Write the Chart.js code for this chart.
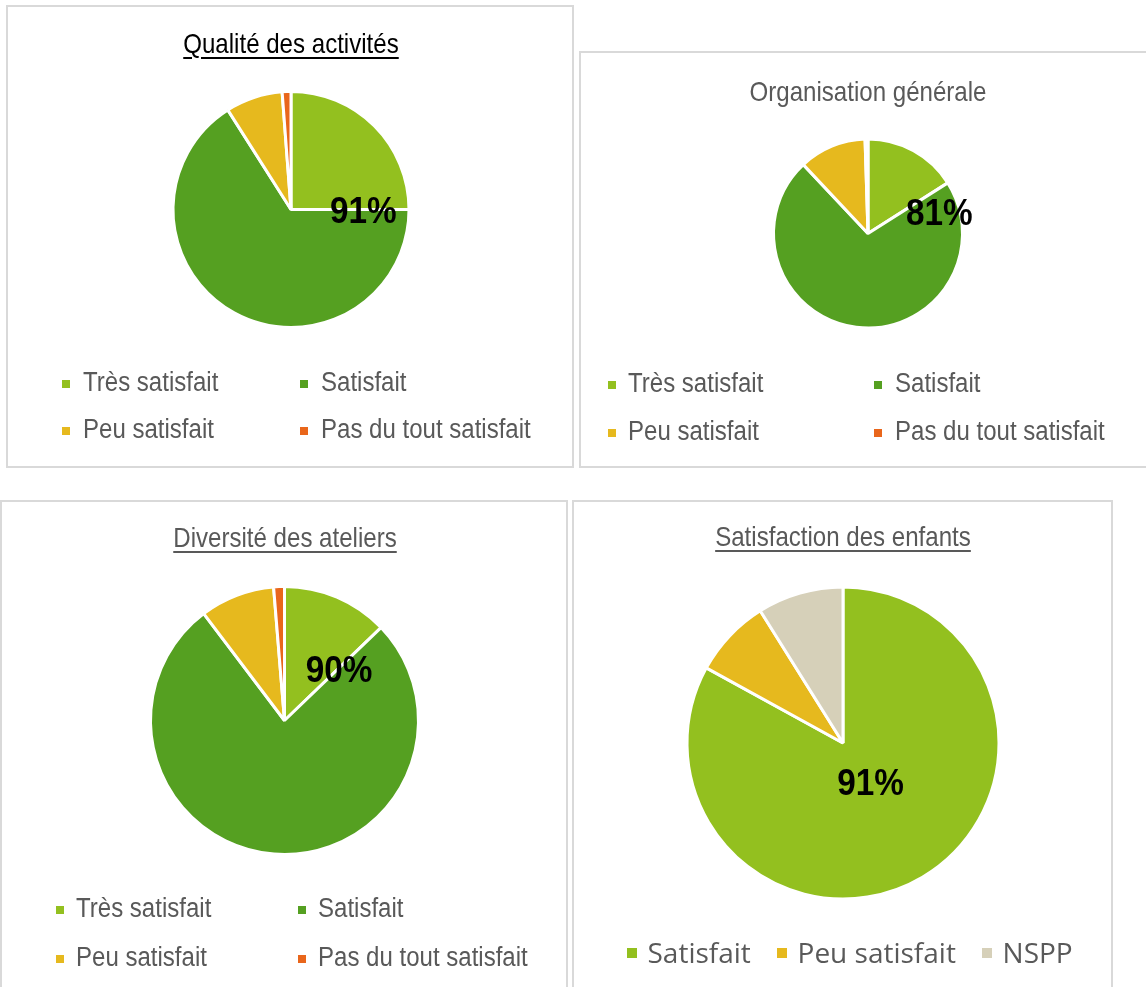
<!DOCTYPE html>
<html lang="fr">
<head>
<meta charset="utf-8">
<title>Satisfaction des familles</title>
<script src="https://cdn.jsdelivr.net/npm/chart.js@4.4.1/dist/chart.umd.min.js"></script>
<style>
  html, body { margin: 0; padding: 0; background: #fff; overflow: hidden; }
  #page { position: relative; width: 1146px; height: 987px; overflow: hidden; }
  .panel { position: absolute; box-sizing: border-box; border: 2px solid #d9d9d9; background: #fff; }
  .panel canvas { position: absolute; left: 0; top: 0; }
  .title {
    position: absolute; width: 500px; text-align: center; white-space: nowrap;
    font-family: 'Liberation Sans', Arial, sans-serif; font-size: 28px; line-height: 32px;
    color: #595959; transform: scaleX(0.86);
    text-decoration-thickness: 2px; text-underline-offset: 4px;
  }
  .legend { position: absolute; }
  .legend ul { list-style: none; margin: 0; padding: 0; display: grid; }
  .legend li { display: flex; align-items: center; white-space: nowrap; color: #595959;
    font-family: 'Liberation Sans', Arial, sans-serif; font-size: 27px; }
  .legend li span { display: inline-block; width: 8px; height: 8px; position: relative; top: 1.5px; }
  .legend li em { font-style: normal; display: inline-block; transform: scaleX(0.89); transform-origin: left center; }

  #p-qualite { left: 6px; top: 5px; width: 568px; height: 463px; }
  #p-orga { left: 579px; top: 51px; width: 600px; height: 417px; }
  #p-diversite { left: 0px; top: 500px; width: 568px; height: 600px; }
  #p-enfants { left: 572px; top: 500px; width: 541px; height: 600px; }

  #t-qualite { left: 41px; top: 28px; color: #000; text-decoration: underline; }
  #t-orga { left: 618px; top: 76px; }
  #t-diversite { left: 34.5px; top: 521.8px; text-decoration: underline; }
  #t-enfants { left: 592.5px; top: 521px; text-decoration: underline; }

  #legend-qualite { left: 62px; top: 358.5px; }
  #legend-qualite ul { grid-template-columns: 238px auto; grid-auto-rows: 47px; }
  #legend-qualite li span { margin-right: 13px; }
  #legend-orga { left: 607.5px; top: 359px; }
  #legend-orga ul { grid-template-columns: 266.5px auto; grid-auto-rows: 48.5px; }
  #legend-orga li span { margin-right: 12.5px; }
  #legend-diversite { left: 56px; top: 884px; }
  #legend-diversite ul { grid-template-columns: 242px auto; grid-auto-rows: 49px; }
  #legend-diversite li span { margin-right: 12px; }
  #legend-enfants { left: 627px; top: 931.8px; }
  #legend-enfants ul { display: flex; flex-direction: row; }
  #legend-enfants li { font-family: 'Open Sans', sans-serif; font-size: 28px; line-height: 40px; margin-right: 26.2px; }
  #legend-enfants li span { width: 10px; height: 10px; margin-right: 10.5px; top: 1.2px; }
  #legend-enfants li em { transform: none; }
</style>
</head>
<body>
<div id="page">
  <div class="panel" id="p-qualite"><canvas id="c-qualite" width="564" height="459"></canvas></div>
  <div class="panel" id="p-orga"><canvas id="c-orga" width="596" height="413"></canvas></div>
  <div class="panel" id="p-diversite"><canvas id="c-diversite" width="564" height="598"></canvas></div>
  <div class="panel" id="p-enfants"><canvas id="c-enfants" width="537" height="598"></canvas></div>

  <div class="title" id="t-qualite">Qualité des activités</div>
  <div class="title" id="t-orga">Organisation générale</div>
  <div class="title" id="t-diversite">Diversité des ateliers</div>
  <div class="title" id="t-enfants">Satisfaction des enfants</div>

  <div class="legend" id="legend-qualite"></div>
  <div class="legend" id="legend-orga"></div>
  <div class="legend" id="legend-diversite"></div>
  <div class="legend" id="legend-enfants"></div>
</div>
<script>
// categories
const niveaux = ['Très satisfait', 'Satisfait', 'Peu satisfait', 'Pas du tout satisfait'];
const niveauxEnfants = ['Satisfait', 'Peu satisfait', 'NSPP'];

// series values (% of answers)
const qualiteValues = [25, 66, 7.8, 1.2];
const orgaValues = [16, 72, 11.5, 0.5];
const diversiteValues = [12.8, 76.9, 9, 1.3];
const enfantsValues = [83, 8.1, 8.9];

// the big percentage printed on each pie
const pctLabels = ['91%', '81%', '90%', '91%'];

const niveauxColors = ['#93C01F', '#55A021', '#E6B91E', '#E9661B'];
const enfantsColors = ['#93C01F', '#E6B91E', '#D6D0B9'];

const borderW = 3;

// where each pie sits on the page (center + visible radius), canvas origin and size
const layouts = {
  qualite:   {cx: 291,   cy: 209.5, r: 116.5, ox: 8,   oy: 7,   w: 564, h: 459, angle: 90,    dist: 0.62},
  orga:      {cx: 868,   cy: 233.5, r: 93,    ox: 581, oy: 53,  w: 596, h: 413, angle: 73.3,  dist: 0.80},
  diversite: {cx: 284.5, cy: 720.5, r: 132.5, ox: 2,   oy: 502, w: 564, h: 598, angle: 46.3,  dist: 0.57},
  enfants:   {cx: 843,   cy: 743,   r: 154.5, ox: 574, oy: 502, w: 537, h: 598, angle: 144.8, dist: 0.31}
};

const htmlLegendPlugin = {
  id: 'htmlLegend',
  afterUpdate(chart, args, options) {
    const box = document.getElementById(options.containerID);
    let ul = box.querySelector('ul');
    if (!ul) {
      ul = document.createElement('ul');
      box.appendChild(ul);
    }
    while (ul.firstChild) ul.firstChild.remove();

    const items = chart.options.plugins.legend.labels.generateLabels(chart);
    items.forEach(item => {
      const li = document.createElement('li');
      const boxSpan = document.createElement('span');
      boxSpan.style.background = item.fillStyle;
      const text = document.createElement('em');
      text.textContent = item.text;
      li.appendChild(boxSpan);
      li.appendChild(text);
      ul.appendChild(li);
    });
  }
};

// draws the big bold % somewhere on the pie, Excel style
const pctLabelPlugin = {
  id: 'pctLabel',
  afterDatasetsDraw(chart, args, o) {
    const arc = chart.getDatasetMeta(0).data[0];
    if (!arc) return;
    const ctx = chart.ctx;
    const R = arc.outerRadius - borderW / 2;
    const a = o.angle * Math.PI / 180;
    const x = arc.x + o.dist * R * Math.sin(a);
    const y = arc.y - o.dist * R * Math.cos(a);
    ctx.save();
    ctx.translate(x, y);
    ctx.scale(0.9, 1);
    ctx.font = 'bold 37px "Liberation Sans", Arial, sans-serif';
    ctx.textAlign = 'center';
    ctx.textBaseline = 'alphabetic';
    ctx.fillStyle = '#000';
    ctx.fillText(o.text, 0, 13.2);
    ctx.restore();
  }
};

function makePie(key, labels, values, colors, pct) {
  const L = layouts[key];
  const S = 2 * (L.r + borderW); // chart area side so the coloured disc has radius r
  const left = L.cx - S / 2 - L.ox;
  const top = L.cy - S / 2 - L.oy;

  return new Chart(document.getElementById('c-' + key), {
    type: 'pie',
    data: {
      labels: labels,
      datasets: [{
        data: values,
        backgroundColor: colors,
        borderColor: '#ffffff',
        borderWidth: borderW,
        hoverOffset: 0,
        offset: 0
      }]
    },
    options: {
      responsive: false,
      animation: false,
      events: [],
      layout: {
        padding: {left: left, top: top, right: L.w - left - S, bottom: L.h - top - S}
      },
      plugins: {
        legend: {display: false},
        title: {display: false},
        tooltip: {enabled: false},
        htmlLegend: {containerID: 'legend-' + key},
        pctLabel: {text: pct, angle: L.angle, dist: L.dist}
      }
    },
    plugins: [htmlLegendPlugin, pctLabelPlugin]
  });
}

makePie('qualite', niveaux, qualiteValues, niveauxColors, pctLabels[0]);
makePie('orga', niveaux, orgaValues, niveauxColors, pctLabels[1]);
makePie('diversite', niveaux, diversiteValues, niveauxColors, pctLabels[2]);
makePie('enfants', niveauxEnfants, enfantsValues, enfantsColors, pctLabels[3]);
</script>
</body>
</html>
